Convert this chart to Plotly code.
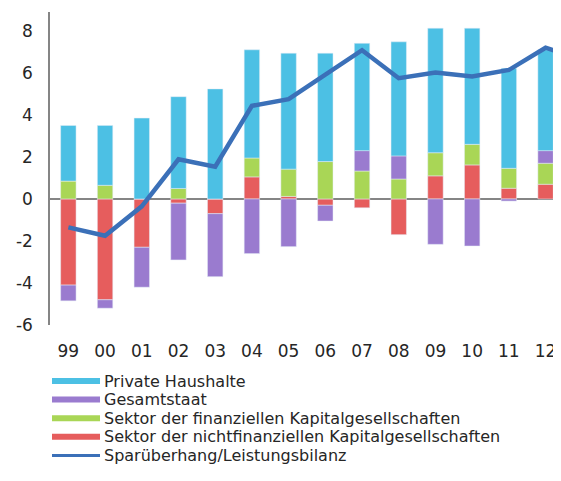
import plotly.graph_objects as go

years = ["99", "00", "01", "02", "03", "04", "05", "06", "07", "08", "09", "10", "11", "12"]
line_years = years + ["13"]

private_haushalte = [2.65, 2.85, 3.85, 4.37, 5.24, 5.15, 5.52, 5.16, 5.11, 5.43, 5.93, 5.53, 4.76, 4.80]
gesamtstaat = [-0.75, -0.40, -1.90, -2.70, -3.00, -2.60, -2.27, -0.75, 0.97, 1.10, -2.16, -2.24, -0.10, 0.60]
finanz_kg = [0.85, 0.65, 0.00, 0.50, 0.00, 0.90, 1.30, 1.78, 1.33, 0.95, 1.10, 0.98, 0.95, 1.00]
nichtfinanz_kg = [-4.10, -4.80, -2.30, -0.20, -0.70, 1.05, 0.12, -0.30, -0.42, -1.70, 1.10, 1.62, 0.51, 0.70]
sparueberhang = [-1.35, -1.75, -0.35, 1.89, 1.54, 4.43, 4.75, 5.90, 7.08, 5.75, 6.02, 5.83, 6.14, 7.20, 6.65]

y_tickvals = [-6, -4, -2, 0, 2, 4, 6, 8]
y_ticktext = ["-6", "-4", "-2", "0", "2", "4", "6", "8"]

labels = [
    "Private Haushalte",
    "Gesamtstaat",
    "Sektor der finanziellen Kapitalgesellschaften",
    "Sektor der nichtfinanziellen Kapitalgesellschaften",
    "Sparüberhang/Leistungsbilanz",
]
colors = ["#4cc0e4", "#9a7bcf", "#a9d656", "#e65d5d", "#3b70b8"]

FONT = "DejaVu Sans, Liberation Sans, Arial, sans-serif"
# the page body adds an 8px offset; size the figure so it fills the window
OFF = 8
W, H = 561 - OFF, 481 - OFF
ML, MR, MT, MB = 50 - OFF, 0, 12 - OFF, 156

fig = go.Figure()
# stacking order (bottom to top): nichtfinanz, finanz, gesamtstaat, private
fig.add_trace(go.Bar(x=years, y=nichtfinanz_kg, name=labels[3], marker_color=colors[3], width=0.42))
fig.add_trace(go.Bar(x=years, y=finanz_kg, name=labels[2], marker_color=colors[2], width=0.42))
fig.add_trace(go.Bar(x=years, y=gesamtstaat, name=labels[1], marker_color=colors[1], width=0.42))
fig.add_trace(go.Bar(x=years, y=private_haushalte, name=labels[0], marker_color=colors[0], width=0.42))
fig.add_trace(go.Scatter(x=line_years, y=sparueberhang, name=labels[4], mode="lines",
                         line=dict(color=colors[4], width=4.5)))

fig.update_layout(
    width=W, height=H,
    margin=dict(l=ML, r=MR, t=MT, b=MB),
    barmode="relative",
    showlegend=False,
    plot_bgcolor="white", paper_bgcolor="white",
    font=dict(family=FONT, size=17, color="#262626"),
)
fig.update_xaxes(
    type="category", categoryorder="array", categoryarray=line_years,
    range=[-0.5, 13.42], showline=False, showgrid=False, zeroline=False,
    tickvals=years, ticktext=years, ticks="", ticklabelstandoff=14,
    tickfont=dict(size=17, color="#262626"), automargin=False,
)
fig.update_yaxes(
    range=[-6.0, 8.9], tickvals=y_tickvals, ticktext=y_ticktext,
    showgrid=False, showline=True, linecolor="#858585", linewidth=1.5,
    zeroline=True, zerolinecolor="#858585", zerolinewidth=1.5,
    ticks="", ticklabelstandoff=12, tickfont=dict(size=17, color="#262626"),
    automargin=False,
)

# manual legend below the chart (paper coordinates, given in page pixels)
plot_w = W - ML - MR
plot_h = H - MT - MB
def px_x(px):
    return (px - OFF - ML) / plot_w
def px_y(py):
    return (H - MB - (py - OFF)) / plot_h

row_y = [381, 399.6, 418.2, 436.8, 455.4]
for i, (lab, col, ry) in enumerate(zip(labels, colors, row_y)):
    thick = 3 if i == 4 else 6
    fig.add_shape(type="rect", xref="paper", yref="paper",
                  x0=px_x(52), x1=px_x(100), y0=px_y(ry + thick / 2), y1=px_y(ry - thick / 2),
                  fillcolor=col, line=dict(width=0))
    fig.add_annotation(xref="paper", yref="paper", x=px_x(102), y=px_y(ry),
                       xanchor="left", yanchor="middle", text=lab, showarrow=False,
                       font=dict(family=FONT, size=16, color="#262626"))

fig.write_html("out.html")
